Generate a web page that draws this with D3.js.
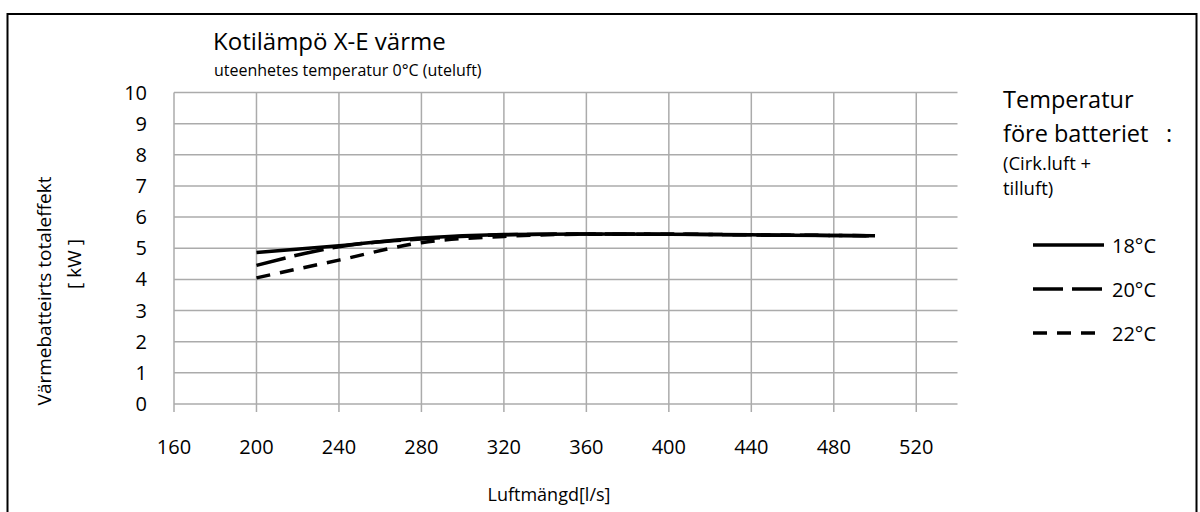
<!DOCTYPE html>
<html>
<head>
<meta charset="utf-8">
<script src="https://cdn.jsdelivr.net/npm/d3@7"></script>
<style>
  html, body { margin: 0; padding: 0; background: #fff; }
  svg text { font-family: "Open Sans", "Noto Sans", sans-serif; fill: #000; }
</style>
</head>
<body>
<svg id="chart" width="1200" height="512"></svg>
<script>
// Air flow [l/s] sample points
const airflow = [200, 240, 280, 320, 360, 400, 440, 480, 500];
// Total heating output [kW] per inlet temperature
const t18 = [4.86, 5.08, 5.33, 5.44, 5.46, 5.45, 5.43, 5.41, 5.40];
const t20 = [4.45, 5.05, 5.30, 5.43, 5.46, 5.45, 5.43, 5.41, 5.40];
const t22 = [4.05, 4.62, 5.18, 5.38, 5.45, 5.45, 5.43, 5.41, 5.40];
const seriesNames = ["18°C", "20°C", "22°C"];
const seriesDash = [null, "30,9", "14,10"];
const xTicks = [160, 200, 240, 280, 320, 360, 400, 440, 480, 520];
const yTicks = [0, 1, 2, 3, 4, 5, 6, 7, 8, 9, 10];

const svg = d3.select("#chart");

// outer frame
svg.append("rect")
  .attr("x", 7.5).attr("y", 14).attr("width", 1189).attr("height", 520)
  .attr("fill", "none").attr("stroke", "#000").attr("stroke-width", 2);

const x = d3.scaleLinear().domain([160, 540]).range([174, 957.5]);
const y = d3.scaleLinear().domain([0, 10]).range([404, 92.5]);
const gridColor = "#ababab";

// horizontal grid
svg.append("g").selectAll("line").data(yTicks).join("line")
  .attr("x1", x(160)).attr("x2", x(540))
  .attr("y1", d => y(d)).attr("y2", d => y(d))
  .attr("stroke", gridColor).attr("stroke-width", 1.5);

// vertical grid with ticks below the axis
svg.append("g").selectAll("line").data(xTicks).join("line")
  .attr("x1", d => x(d)).attr("x2", d => x(d))
  .attr("y1", y(10)).attr("y2", y(0) + 8)
  .attr("stroke", gridColor).attr("stroke-width", 1.5);

// y tick labels
svg.append("g").selectAll("text").data(yTicks).join("text")
  .attr("x", 147).attr("y", d => y(d) + 7)
  .attr("text-anchor", "end").attr("font-size", 20)
  .text(d => d);

// x tick labels
svg.append("g").selectAll("text").data(xTicks).join("text")
  .attr("x", d => x(d)).attr("y", 454)
  .attr("text-anchor", "middle").attr("font-size", 20)
  .text(d => d);

// titles
svg.append("text").attr("x", 213).attr("y", 50).attr("font-size", 24)
  .text("Kotilämpö X-E värme");
svg.append("text").attr("x", 214).attr("y", 76).attr("font-size", 16)
  .text("uteenhetes temperatur 0°C (uteluft)");

// axis titles
svg.append("text").attr("transform", "translate(51,291) rotate(-90)")
  .attr("text-anchor", "middle").attr("font-size", 19)
  .text("Värmebatteirts totaleffekt");
svg.append("text").attr("transform", "translate(81,264) rotate(-90)")
  .attr("text-anchor", "middle").attr("font-size", 19)
  .text("[ kW ]");
svg.append("text").attr("x", 549).attr("y", 501)
  .attr("text-anchor", "middle").attr("font-size", 18)
  .text("Luftmängd[l/s]");

// series lines
const line = d3.line().x((d, i) => x(airflow[i])).y(d => y(d)).curve(d3.curveMonotoneX);
const allSeries = [t18, t20, t22];
svg.append("g").selectAll("path").data(allSeries).join("path")
  .attr("d", d => line(d))
  .attr("fill", "none").attr("stroke", "#000").attr("stroke-width", 3.5)
  .attr("stroke-dasharray", (d, i) => seriesDash[i]);

// legend
svg.append("text").attr("x", 1003).attr("y", 108).attr("font-size", 23.5).text("Temperatur");
svg.append("text").attr("x", 1003).attr("y", 142).attr("font-size", 23.5).text("före batteriet");
svg.append("text").attr("x", 1166).attr("y", 142).attr("font-size", 23.5).text(":");
svg.append("text").attr("x", 1003).attr("y", 170).attr("font-size", 18.5).text("(Cirk.luft +");
svg.append("text").attr("x", 1003).attr("y", 195).attr("font-size", 18.5).text("tilluft)");

const legendY = [245, 289, 333];
const lg = svg.append("g").selectAll("g").data(seriesNames).join("g");
lg.append("line")
  .attr("x1", 1033).attr("x2", 1104)
  .attr("y1", (d, i) => legendY[i]).attr("y2", (d, i) => legendY[i])
  .attr("stroke", "#000").attr("stroke-width", 3.5)
  .attr("stroke-dasharray", (d, i) => seriesDash[i]);
lg.append("text")
  .attr("x", 1112).attr("y", (d, i) => legendY[i] + 8)
  .attr("font-size", 20)
  .text(d => d);
</script>
</body>
</html>
